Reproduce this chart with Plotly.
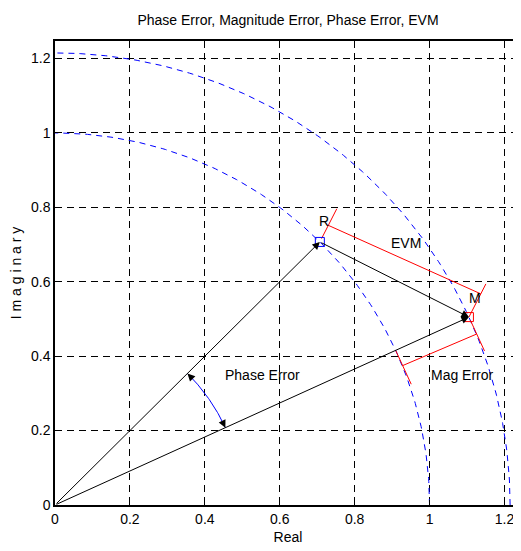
import numpy as np
import plotly.graph_objects as go

# ---- data ----
R_point = [0.707, 0.707]   # reference vector
M_point = [1.105, 0.505]   # measured vector
tick_vals = [0, 0.2, 0.4, 0.6, 0.8, 1, 1.2]
tick_text = ["0", "0.2", "0.4", "0.6", "0.8", "1", "1.2"]
labels = ["R", "M", "EVM", "Phase Error", "Mag Error"]
label_pos_x = [0.718, 1.12, 0.937, 0.553, 1.087]
label_pos_y = [0.763, 0.556, 0.704, 0.349, 0.349]
phase_arc_radius = 0.5

R = np.array(R_point)
M = np.array(M_point)
rR = np.hypot(*R)
rM = np.hypot(*M)
aR = np.arctan2(R[1], R[0])
aM = np.arctan2(M[1], M[0])

FONT = "Liberation Sans, Arial, sans-serif"
FS = 14
fig = go.Figure()

# dashed circles
th = np.linspace(0, np.pi / 2, 200)
for rad in (rR, rM):
    fig.add_trace(go.Scatter(x=rad * np.cos(th), y=rad * np.sin(th), mode="lines",
                             line=dict(color="#0000ff", width=1, dash="6px,5px"),
                             hoverinfo="skip", showlegend=False))

red = dict(color="#ff0000", width=1)

def seg(p, q, line):
    fig.add_trace(go.Scatter(x=[p[0], q[0]], y=[p[1], q[1]], mode="lines",
                             line=line, hoverinfo="skip", showlegend=False))

# EVM dimension
d = (M - R) / np.linalg.norm(M - R)
n = np.array([-d[1], d[0]])
if n[1] < 0:
    n = -n
seg(R + 0.01 * n, R + 0.10 * n, red)
seg(M + 0.0 * n, M + 0.10 * n, red)
seg(R + 0.05 * n, M + 0.07 * n, red)

# Mag error dimension
u = M / rM
p = np.array([u[1], -u[0]])
Pin = rR * u
seg(Pin, Pin + 0.10 * p, red)
seg(M + 0.01 * p, M + 0.10 * p, red)
seg(Pin + 0.045 * p, M + 0.05 * p, red)

# phase error arc
ta = np.linspace(aM, aR, 60)
fig.add_trace(go.Scatter(x=phase_arc_radius * np.cos(ta), y=phase_arc_radius * np.sin(ta),
                         mode="lines", line=dict(color="#0000ff", width=1),
                         hoverinfo="skip", showlegend=False))

# markers
fig.add_trace(go.Scatter(x=[R[0]], y=[R[1]], mode="markers",
                         marker=dict(symbol="square-open", size=9, color="#0000ff", line=dict(width=1)),
                         hoverinfo="skip", showlegend=False))
fig.add_trace(go.Scatter(x=[M[0]], y=[M[1]], mode="markers",
                         marker=dict(symbol="square-open", size=9, color="#ff0000", line=dict(width=1)),
                         hoverinfo="skip", showlegend=False))

anns = []
def arrow(tail, tip):
    anns.append(dict(x=tip[0], y=tip[1], ax=tail[0], ay=tail[1], xref="x", yref="y",
                     axref="x", ayref="y", showarrow=True, arrowhead=2, arrowsize=1.5,
                     arrowwidth=1, arrowcolor="black", text=""))

arrow([0, 0], R)
arrow([0, 0], M)
arrow(R, M)
# phase error arrowheads
da = 0.03
arrow(phase_arc_radius * np.array([np.cos(aR - da), np.sin(aR - da)]),
      phase_arc_radius * np.array([np.cos(aR), np.sin(aR)]))
arrow(phase_arc_radius * np.array([np.cos(aM + da), np.sin(aM + da)]),
      phase_arc_radius * np.array([np.cos(aM), np.sin(aM)]))

for t, x, y in zip(labels, label_pos_x, label_pos_y):
    anns.append(dict(x=x, y=y, xref="x", yref="y", text=t, showarrow=False,
                     font=dict(family=FONT, size=FS, color="black")))

fig.update_layout(annotations=anns)

axis_common = dict(
    tickvals=tick_vals, ticktext=tick_text, ticks="inside", ticklen=5, tickcolor="black",
    showgrid=True, gridcolor="black", gridwidth=1, griddash="7px,5px",
    zeroline=False, showline=True, linecolor="black", automargin=False,
    tickfont=dict(family=FONT, size=FS, color="black"),
)
fig.update_xaxes(**axis_common, range=[0, 1.244], mirror="ticks", linewidth=2,
                 title=dict(text="Real", font=dict(family=FONT, size=FS, color="black"), standoff=6))
fig.update_yaxes(**axis_common, range=[0, 1.247], mirror=False, linewidth=1.5,
                 title=dict(text="I m a g i n a r y", font=dict(family=FONT, size=FS, color="black"), standoff=6))

# page body has an 8px default margin, so the figure is sized/offset to compensate
W, H = 513, 543
fig.update_layout(
    width=W, height=H,
    margin=dict(l=47, r=0, t=33, b=46),
    paper_bgcolor="white", plot_bgcolor="white",
    title=dict(text="Phase Error, Magnitude Error, Phase Error, EVM", x=0.5, xref="paper",
               y=1 - 12 / H, yanchor="middle",
               font=dict(family=FONT, size=FS, color="black")),
    showlegend=False,
)

fig.write_html("out.html")
